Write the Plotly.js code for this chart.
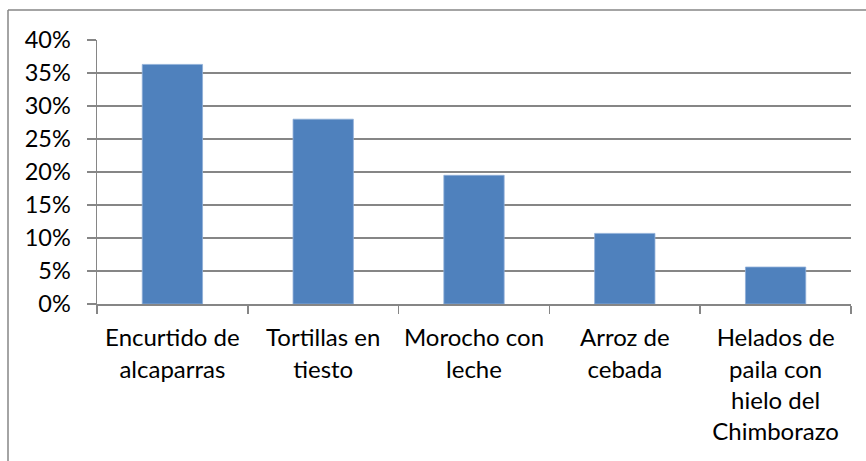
<!DOCTYPE html>
<html>
<head>
<meta charset="utf-8">
<script src="https://cdn.plot.ly/plotly-3.0.1.min.js"></script>
<style>html,body{margin:0;padding:0;background:#fff;}#chart{width:866px;height:461px;}</style>
</head>
<body>
<div id="chart"></div>
<script>
var categories = ["Encurtido de<br>alcaparras", "Tortillas en<br>tiesto", "Morocho con<br>leche", "Arroz de<br>cebada", "Helados de<br>paila con<br>hielo del<br>Chimborazo"];
var values = [0.363, 0.280, 0.195, 0.107, 0.056];
var yTicks = [0, 0.05, 0.10, 0.15, 0.20, 0.25, 0.30, 0.35, 0.40];
var yTickLabels = ["0%", "5%", "10%", "15%", "20%", "25%", "30%", "35%", "40%"];

var W = 866, H = 461;
var m = {l: 97, r: 15, t: 40, b: 157};
var pw = W - m.l - m.r, ph = H - m.t - m.b;
function px(x){ return (x - m.l) / pw; }
function py(y){ return (H - m.b - y) / ph; }

var trace = {
  type: "bar",
  x: categories,
  y: values,
  marker: {color: "#4F81BD", line: {color: "#8FAFD8", width: 0.8}},
  hoverinfo: "none"
};

var layout = {
  width: W, height: H,
  margin: m,
  paper_bgcolor: "#fff",
  plot_bgcolor: "#fff",
  bargap: 0.6,
  showlegend: false,
  font: {family: "Lato, 'Open Sans', sans-serif", size: 23, color: "#000"},
  xaxis: {
    type: "category",
    showgrid: false,
    showline: true, linecolor: "#868686", linewidth: 1.5,
    ticks: "outside", tickson: "boundaries", ticklen: 8, tickcolor: "#868686", tickwidth: 1.5,
    tickfont: {family: "Lato, sans-serif", size: 24, color: "#000"},
    ticklabelstandoff: 12,
    fixedrange: true
  },
  yaxis: {
    range: [0, 0.40],
    tickvals: yTicks, ticktext: yTickLabels,
    showgrid: true, gridcolor: "#868686", gridwidth: 1.5,
    zeroline: false,
    showline: true, linecolor: "#868686", linewidth: 1.5,
    ticks: "outside", ticklen: 9, tickcolor: "#868686", tickwidth: 1.5,
    tickfont: {family: "Lato, sans-serif", size: 23.5, color: "#000"},
    ticklabelstandoff: 11,
    fixedrange: true
  },
  shapes: [
    {type: "line", xref: "paper", yref: "paper", x0: px(8), x1: px(866), y0: py(10), y1: py(10), line: {color: "#868686", width: 1.5}},
    {type: "line", xref: "paper", yref: "paper", x0: px(8), x1: px(8), y0: py(10), y1: py(461), line: {color: "#868686", width: 1.5}}
  ]
};

Plotly.newPlot("chart", [trace], layout, {displayModeBar: false, staticPlot: true});
</script>
</body>
</html>
